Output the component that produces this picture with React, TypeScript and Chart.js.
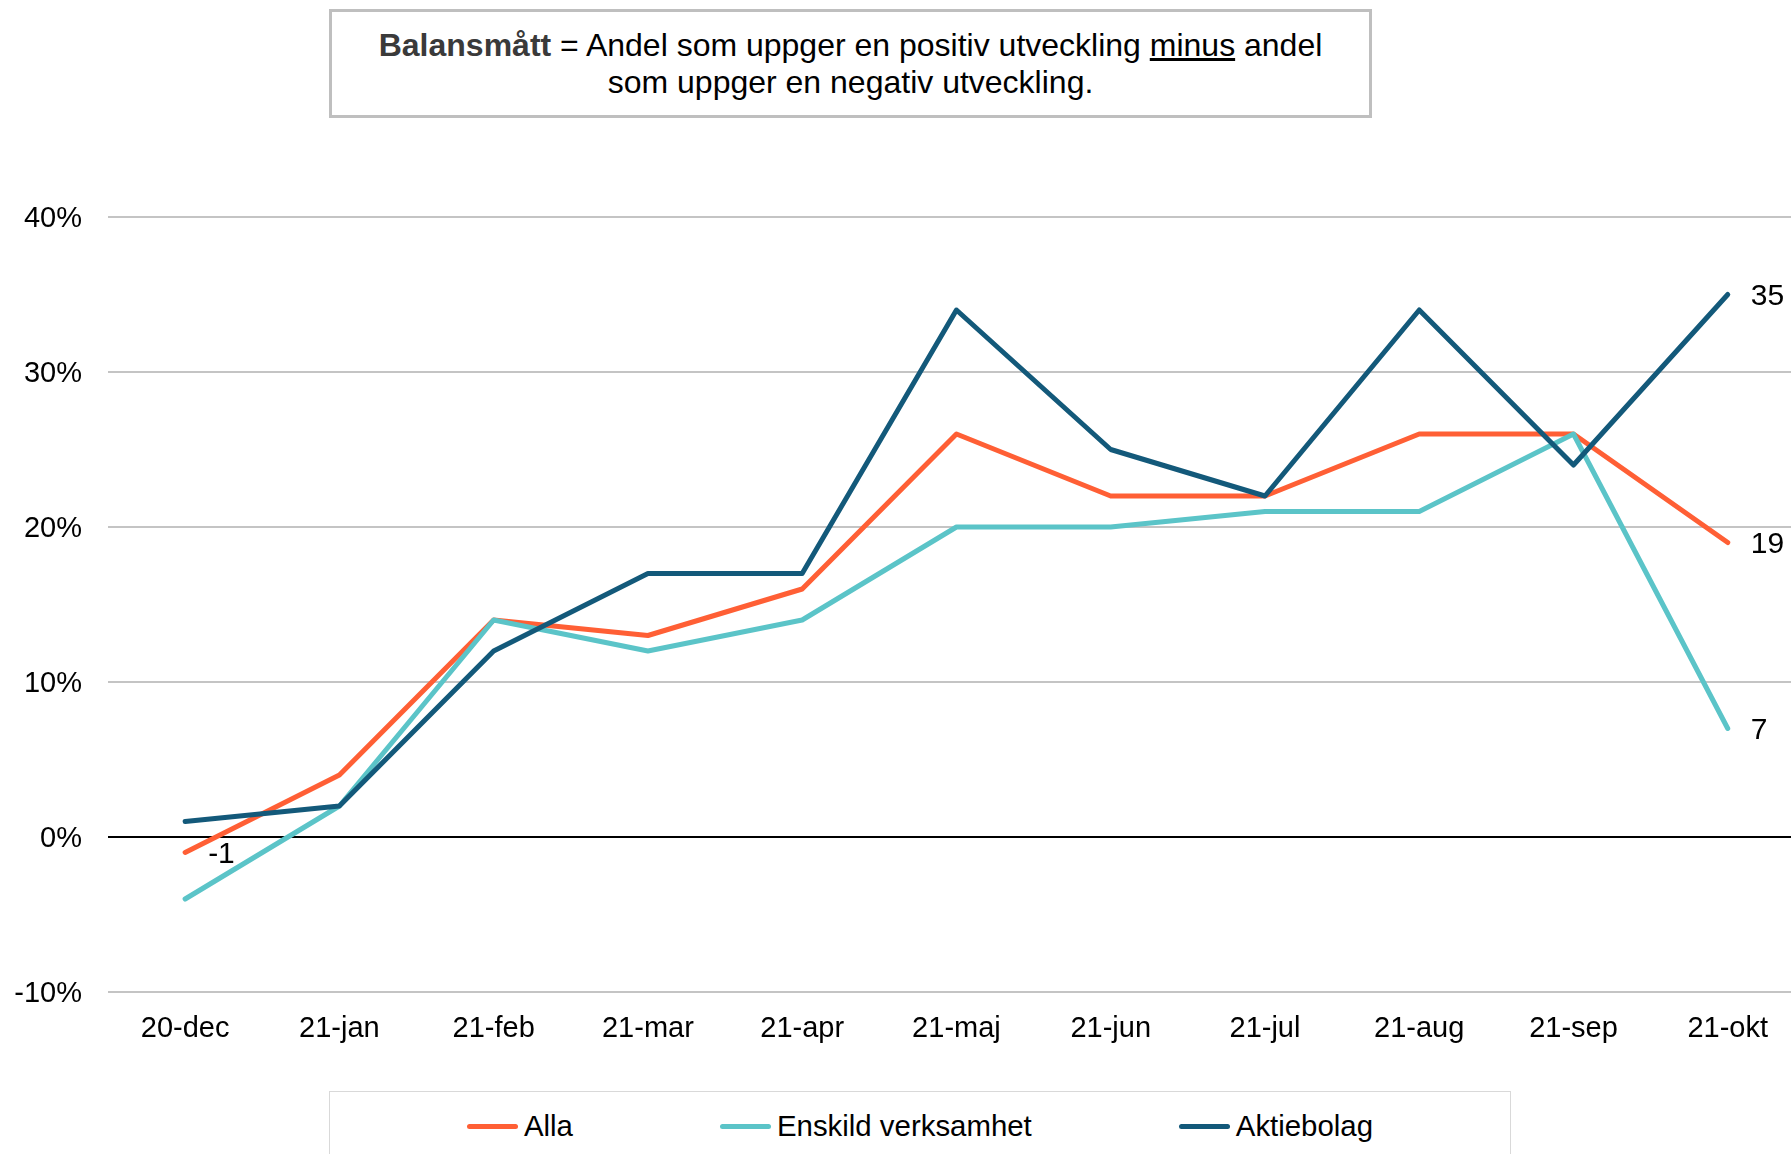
import React, { useEffect, useRef } from "react";
import { Chart, registerables } from "chart.js";

Chart.register(...registerables);

const categories = ["20-dec", "21-jan", "21-feb", "21-mar", "21-apr", "21-maj", "21-jun", "21-jul", "21-aug", "21-sep", "21-okt"];
const alla = [-1, 4, 14, 13, 16, 26, 22, 22, 26, 26, 19];
const enskild = [-4, 2, 14, 12, 14, 20, 20, 21, 21, 26, 7];
const aktiebolag = [1, 2, 12, 17, 17, 34, 25, 22, 34, 24, 35];
const seriesNames = ["Alla", "Enskild verksamhet", "Aktiebolag"];
const seriesValues = [alla, enskild, aktiebolag];
const seriesColors = ["#FF5F35", "#5BC4C8", "#13597A"];
const seriesOrder = [2, 1, 0];
const labelledPoints = [[0, 10], [10], [10]];
const yMin = -10;
const yMax = 40;
const yStep = 10;

const FONT = "'Liberation Sans', Arial, Helvetica, sans-serif";

const dataLabelPlugin = {
  id: "pointLabels",
  afterDatasetsDraw(chart: any) {
    const ctx = chart.ctx;
    ctx.save();
    ctx.font = `30px ${FONT}`;
    ctx.fillStyle = "#000";
    ctx.textBaseline = "middle";
    ctx.textAlign = "left";
    seriesValues.forEach((vals, di) => {
      const meta = chart.getDatasetMeta(di);
      labelledPoints[di].forEach((i) => {
        const el = meta.data[i];
        if (!el) return;
        ctx.fillText(String(vals[i]), el.x + 23, el.y + 2);
      });
    });
    ctx.restore();
  },
};

export default function App() {
  const canvasRef = useRef<HTMLCanvasElement | null>(null);

  useEffect(() => {
    if (!canvasRef.current) return;
    const chart = new Chart(canvasRef.current, {
      type: "line",
      data: {
        datasets: seriesValues.map((vals, di) => ({
          label: seriesNames[di],
          data: vals.map((v, i) => ({ x: i, y: v })),
          borderColor: seriesColors[di],
          backgroundColor: seriesColors[di],
          borderWidth: 5,
          borderCapStyle: "round" as const,
          borderJoinStyle: "round" as const,
          pointRadius: 0,
          pointHoverRadius: 0,
          tension: 0,
          fill: false,
          order: seriesOrder[di],
        })),
      },
      options: {
        animation: false,
        responsive: false,
        layout: { padding: { top: 217, left: 0, right: 0, bottom: 0 } },
        plugins: {
          legend: { display: false },
          tooltip: { enabled: false },
        },
        scales: {
          x: {
            type: "linear",
            min: -0.5,
            max: 10.41,
            afterBuildTicks: (scale: any) => {
              scale.ticks = categories.map((_, i) => ({ value: i }));
            },
            afterFit: (scale: any) => {
              scale.height = 162;
            },
            grid: { display: false, drawTicks: false },
            border: { display: false },
            ticks: {
              autoSkip: false,
              maxRotation: 0,
              minRotation: 0,
              padding: 20,
              color: "#000",
              font: { family: FONT, size: 29 },
              callback: (v: any) => categories[v] ?? "",
            },
          },
          y: {
            type: "linear",
            min: yMin,
            max: yMax,
            afterFit: (scale: any) => {
              scale.width = 108;
            },
            grid: {
              drawTicks: false,
              color: (c: any) => (c.tick && c.tick.value === 0 ? "#000000" : "#C4C4C4"),
              lineWidth: 2,
            },
            border: { display: false },
            ticks: {
              stepSize: yStep,
              padding: 26,
              labelOffset: 2,
              color: "#000",
              font: { family: FONT, size: 29 },
              callback: (v: any) => `${v}%`,
            },
          },
        },
      },
      plugins: [dataLabelPlugin],
    });
    return () => chart.destroy();
  }, []);

  return (
    <div
      style={{
        position: "absolute",
        left: 0,
        top: 0,
        width: 1791,
        height: 1154,
        overflow: "hidden",
        background: "#fff",
        fontFamily: FONT,
        color: "#000",
      }}
    >
      <canvas ref={canvasRef} width={1791} height={1154} style={{ display: "block", position: "absolute", left: 0, top: 0 }} />
      <div
        style={{
          position: "absolute",
          left: 329,
          top: 9,
          width: 1043,
          height: 109,
          boxSizing: "border-box",
          border: "3px solid #BFBFBF",
          background: "#fff",
          display: "flex",
          alignItems: "center",
          justifyContent: "center",
          textAlign: "center",
          fontSize: 32,
          lineHeight: "37px",
        }}
      >
        <div>
          <b style={{ color: "#3A3A3A" }}>Balansmått</b> = Andel som uppger en positiv utveckling <u>minus</u> andel
          <br />
          som uppger en negativ utveckling.
        </div>
      </div>
      <div
        style={{
          position: "absolute",
          left: 329,
          top: 1091,
          width: 1182,
          height: 120,
          boxSizing: "border-box",
          border: "1px solid #D9D9D9",
          background: "#fff",
        }}
      >
        <div
          style={{
            height: 68,
            display: "flex",
            alignItems: "center",
            justifyContent: "center",
            gap: 147,
            fontSize: 29.4,
          }}
        >
          {seriesNames.map((name, i) => (
            <div key={name} style={{ display: "flex", alignItems: "center" }}>
              <span
                style={{
                  display: "inline-block",
                  width: 51,
                  height: 5,
                  borderRadius: 3,
                  background: seriesColors[i],
                  marginRight: 6,
                }}
              />
              <span>{name}</span>
            </div>
          ))}
        </div>
      </div>
    </div>
  );
}
